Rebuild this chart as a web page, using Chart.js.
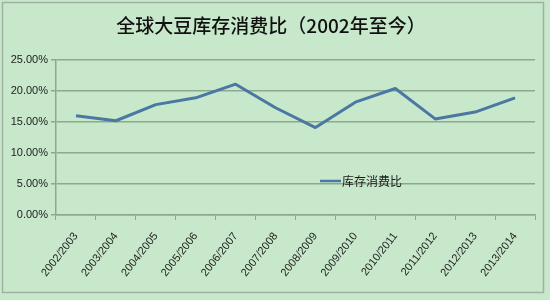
<!DOCTYPE html>
<html>
<head>
<meta charset="utf-8">
<script src="https://cdn.jsdelivr.net/npm/chart.js@4"></script>
<style>
  html, body { margin: 0; padding: 0; background: #c8e8cb; }
  #wrap { width: 550px; height: 300px; }
</style>
</head>
<body>
<div id="wrap"><canvas id="ratioChart" width="550" height="300"></canvas></div>
<script>
const seasons = ['2002/2003', '2003/2004', '2004/2005', '2005/2006', '2006/2007', '2007/2008',
  '2008/2009', '2009/2010', '2010/2011', '2011/2012', '2012/2013', '2013/2014'];
const stockRatio = [16.0, 15.2, 17.8, 18.9, 21.1, 17.3, 14.1, 18.2, 20.4, 15.5, 16.6, 18.9];
const yTicks = [0, 5, 10, 15, 20, 25];
const chartTitle = '全球大豆库存消费比（2002年至今）';
const seriesName = '库存消费比';

const cjk = '"Noto Sans CJK SC", "Microsoft YaHei", sans-serif';

// background, frame, title and the in-plot legend
const decor = {
  id: 'decor',
  beforeDraw(chart) {
    const ctx = chart.ctx;
    ctx.save();
    ctx.fillStyle = '#c8e8cb';
    ctx.fillRect(0, 0, chart.width, chart.height);
    ctx.strokeStyle = '#9fb2a2';
    ctx.lineWidth = 1.5;
    ctx.strokeRect(2.5, 2.5, 541, 290);
    ctx.restore();
  },
  afterDraw(chart) {
    const ctx = chart.ctx;
    const area = chart.chartArea;
    ctx.save();
    ctx.fillStyle = '#111';
    ctx.font = '500 19px ' + cjk;
    ctx.textAlign = 'center';
    ctx.textBaseline = 'middle';
    ctx.fillText(chartTitle, 271, 26);

    const lx = area.left + 264, ly = 181;
    ctx.strokeStyle = '#4a78a3';
    ctx.lineWidth = 2.5;
    ctx.beginPath();
    ctx.moveTo(lx, ly);
    ctx.lineTo(lx + 21, ly);
    ctx.stroke();
    ctx.font = '12px ' + cjk;
    ctx.textAlign = 'left';
    ctx.fillStyle = '#1a1a1a';
    ctx.fillText(chart.data.datasets[0].label, lx + 22, ly);
    ctx.restore();
  }
};

new Chart(document.getElementById('ratioChart'), {
  type: 'line',
  data: {
    labels: seasons,
    datasets: [{
      label: seriesName,
      data: stockRatio,
      borderColor: '#4a78a3',
      borderWidth: 3,
      pointRadius: 0,
      tension: 0,
      borderJoinStyle: 'round',
      fill: false
    }]
  },
  options: {
    responsive: false,
    animation: false,
    layout: { padding: { left: 4, right: 15, top: 60, bottom: 0 } },
    plugins: {
      legend: { display: false },
      title: { display: false },
      tooltip: { enabled: false }
    },
    scales: {
      x: {
        offset: true,
        grid: { offset: true, drawOnChartArea: false, tickLength: 5, color: '#8ea890' },
        border: { color: '#8ea890', width: 1.5 },
        ticks: {
          minRotation: 52, maxRotation: 52,
          color: '#222', padding: 10,
          font: { family: 'Liberation Sans, Arial, sans-serif', size: 11 }
        },
        afterFit(scale) { scale.height = 85; }
      },
      y: {
        min: 0, max: 25,
        afterBuildTicks(scale) { scale.ticks = yTicks.map(v => ({ value: v })); },
        grid: { color: '#8ea890', lineWidth: 1.5, tickLength: 5 },
        border: { color: '#8ea890', width: 1.5 },
        ticks: {
          color: '#222', padding: 3,
          font: { family: 'Liberation Sans, Arial, sans-serif', size: 11 },
          callback: v => v.toFixed(2) + '%'
        },
        afterFit(scale) { scale.width = 52; }
      }
    }
  },
  plugins: [decor]
});
</script>
</body>
</html>
